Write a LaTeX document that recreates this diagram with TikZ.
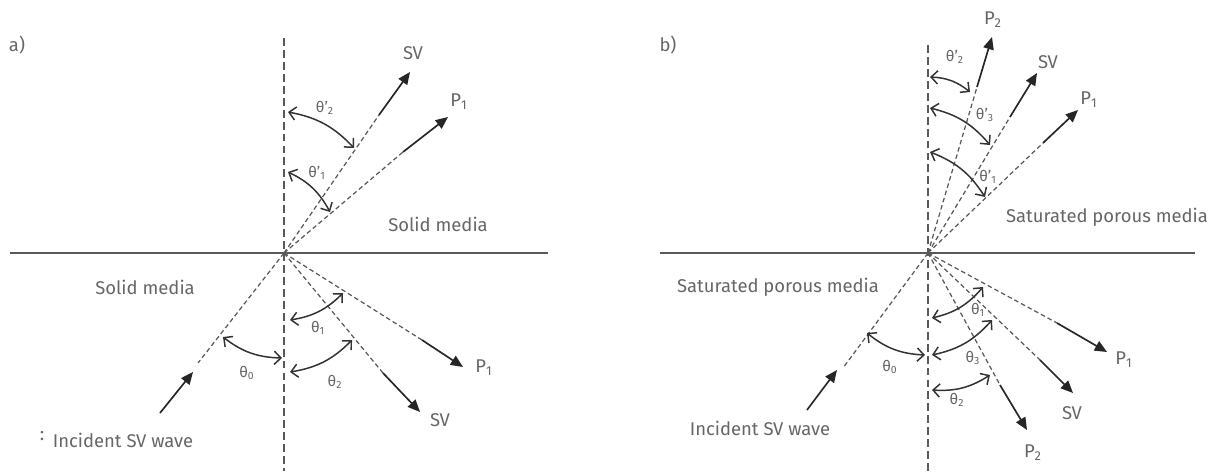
\documentclass[tikz,border=0pt]{standalone}
\usepackage{fontspec}
\setmainfont{Fira Sans}
\usepackage{tikz}
\usetikzlibrary{arrows.meta}

\begin{document}
\begin{tikzpicture}[x=0.02cm, y=-0.02cm,
    surface/.style={draw=black!65, line width=0.9pt},
    normal/.style={draw=black!65, line width=0.9pt, dash pattern=on 4.5pt off 2.3pt},
    ray/.style={draw=black!65, line width=0.7pt, dash pattern=on 2.6pt off 1.7pt},
    wave/.style={draw=black!85, line width=0.95pt, -{Triangle[length=7pt,width=6pt]}},
    angarc/.style={draw=black!80, line width=0.85pt, {Straight Barb[length=3.8pt,width=7.5pt]}-{Straight Barb[length=3.8pt,width=7.5pt]}},
    lbl/.style={text=black!60, font=\fontsize{10.5}{12}\selectfont, inner sep=0pt},
    ang/.style={text=black!60, font=\fontsize{8.5}{10}\selectfont, inner sep=0pt}]
    \useasboundingbox (0,0) rectangle (1214,471);

    % ---- a) solid / solid ----
    \coordinate (aO) at (284,253);
    \coordinate (aTop) at (284,38);
    \coordinate (aBot) at (284,471);
    \coordinate (aL) at (10,253);
    \coordinate (aR) at (548,253);
    \draw[normal] (aTop) -- (aBot);
    \draw[surface] (aL) -- (aR);

    \coordinate (aSVr) at (379,115);  \coordinate (aSVrt) at (410,72);
    \coordinate (aPr) at (403,152);   \coordinate (aPrt) at (448,117);
    \coordinate (aInc) at (198,363);
    \coordinate (aIncs) at (160,413); \coordinate (aInct) at (193,372);
    \coordinate (aPt) at (422,340);   \coordinate (aPtt) at (463,367);
    \coordinate (aSVt) at (383,373);  \coordinate (aSVtt) at (420,412);

    \draw[ray] (aO) -- (aSVr);  \draw[wave] (aSVr) -- (aSVrt);
    \draw[ray] (aO) -- (aPr);   \draw[wave] (aPr) -- (aPrt);
    \draw[ray] (aO) -- (aInc);  \draw[wave] (aIncs) -- (aInct);
    \draw[ray] (aO) -- (aPt);   \draw[wave] (aPt) -- (aPtt);
    \draw[ray] (aO) -- (aSVt);  \draw[wave] (aSVt) -- (aSVtt);

    \draw[angarc] (288,112) to[bend left=18] (354,148);
    \draw[angarc] (288,172) to[bend left=18] (330,212);
    \draw[angarc] (223,337) to[bend right=18] (282,358);
    \draw[angarc] (290,320) to[bend right=18] (343,293);
    \draw[angarc] (290,372) to[bend right=18] (352,340);

    \node[lbl] (alab) at (17,45) {a)};
    \node[lbl] (aSVrl) at (413,53) {SV};
    \node[lbl] (aPrl) at (459,102) {P\textsubscript{1}};
    \node[lbl] (aUp) at (438,224) {Solid media};
    \node[lbl] (aLo) at (145,287) {Solid media};
    \node[lbl] (aIncl) at (123,440) {Incident SV wave};
    \node[lbl] (aDots) at (42,436) {:};
    \node[lbl] (aPtl) at (484,368) {P\textsubscript{1}};
    \node[lbl] (aSVtl) at (440,420) {SV};
    \node[ang] (ath2r) at (325,108) {θ'\textsubscript{2}};
    \node[ang] (ath1r) at (317,173) {θ'\textsubscript{1}};
    \node[ang] (ath0) at (247,373) {θ\textsubscript{0}};
    \node[ang] (ath1) at (318,328) {θ\textsubscript{1}};
    \node[ang] (ath2) at (335,382) {θ\textsubscript{2}};

    % ---- b) saturated / saturated ----
    \coordinate (bO) at (928,253);
    \coordinate (bTop) at (928,45);
    \coordinate (bBot) at (928,471);
    \coordinate (bL) at (660,253);
    \coordinate (bR) at (1195,253);
    \draw[normal] (bTop) -- (bBot);
    \draw[surface] (bL) -- (bR);

    \coordinate (bP2r) at (977,87);   \coordinate (bP2rt) at (992,37);
    \coordinate (bSVr) at (1010,117); \coordinate (bSVrt) at (1037,73);
    \coordinate (bP1r) at (1043,143); \coordinate (bP1rt) at (1078,110);
    \coordinate (bInc) at (843,368);
    \coordinate (bIncs) at (807,410); \coordinate (bInct) at (837,370);
    \coordinate (bP1t) at (1057,323); \coordinate (bP1tt) at (1107,352);
    \coordinate (bSVt) at (1040,360); \coordinate (bSVtt) at (1073,393);
    \coordinate (bP2t) at (1000,385); \coordinate (bP2tt) at (1027,430);

    \draw[ray] (bO) -- (bP2r);  \draw[wave] (bP2r) -- (bP2rt);
    \draw[ray] (bO) -- (bSVr);  \draw[wave] (bSVr) -- (bSVrt);
    \draw[ray] (bO) -- (bP1r);  \draw[wave] (bP1r) -- (bP1rt);
    \draw[ray] (bO) -- (bInc);  \draw[wave] (bIncs) -- (bInct);
    \draw[ray] (bO) -- (bP1t);  \draw[wave] (bP1t) -- (bP1tt);
    \draw[ray] (bO) -- (bSVt);  \draw[wave] (bSVt) -- (bSVtt);
    \draw[ray] (bO) -- (bP2t);  \draw[wave] (bP2t) -- (bP2tt);

    \draw[angarc] (930,77) to[bend left=18] (970,92);
    \draw[angarc] (930,108) to[bend left=18] (990,145);
    \draw[angarc] (930,152) to[bend left=18] (985,197);
    \draw[angarc] (867,333) to[bend right=18] (925,355);
    \draw[angarc] (932,318) to[bend right=18] (983,287);
    \draw[angarc] (932,355) to[bend right=18] (992,320);
    \draw[angarc] (932,390) to[bend right=18] (990,375);

    \node[lbl] (blab) at (668,45) {b)};
    \node[lbl] (bP2rl) at (993,20) {P\textsubscript{2}};
    \node[lbl] (bSVrl) at (1048,62) {SV};
    \node[lbl] (bP1rl) at (1089,100) {P\textsubscript{1}};
    \node[lbl] (bUp) at (1107,217) {Saturated porous media};
    \node[lbl] (bLo) at (778,287) {Saturated porous media};
    \node[lbl] (bIncl) at (760,428) {Incident SV wave};
    \node[lbl] (bP1tl) at (1124,360) {P\textsubscript{1}};
    \node[lbl] (bSVtl) at (1072,413) {SV};
    \node[lbl] (bP2tl) at (1033,453) {P\textsubscript{2}};
    \node[ang] (bth2r) at (955,57) {θ'\textsubscript{2}};
    \node[ang] (bth3r) at (985,115) {θ'\textsubscript{3}};
    \node[ang] (bth1r) at (988,177) {θ'\textsubscript{1}};
    \node[ang] (bth0) at (890,367) {θ\textsubscript{0}};
    \node[ang] (bth1) at (978,310) {θ\textsubscript{1}};
    \node[ang] (bth3) at (973,358) {θ\textsubscript{3}};
    \node[ang] (bth2) at (957,400) {θ\textsubscript{2}};
\end{tikzpicture}
\end{document}
